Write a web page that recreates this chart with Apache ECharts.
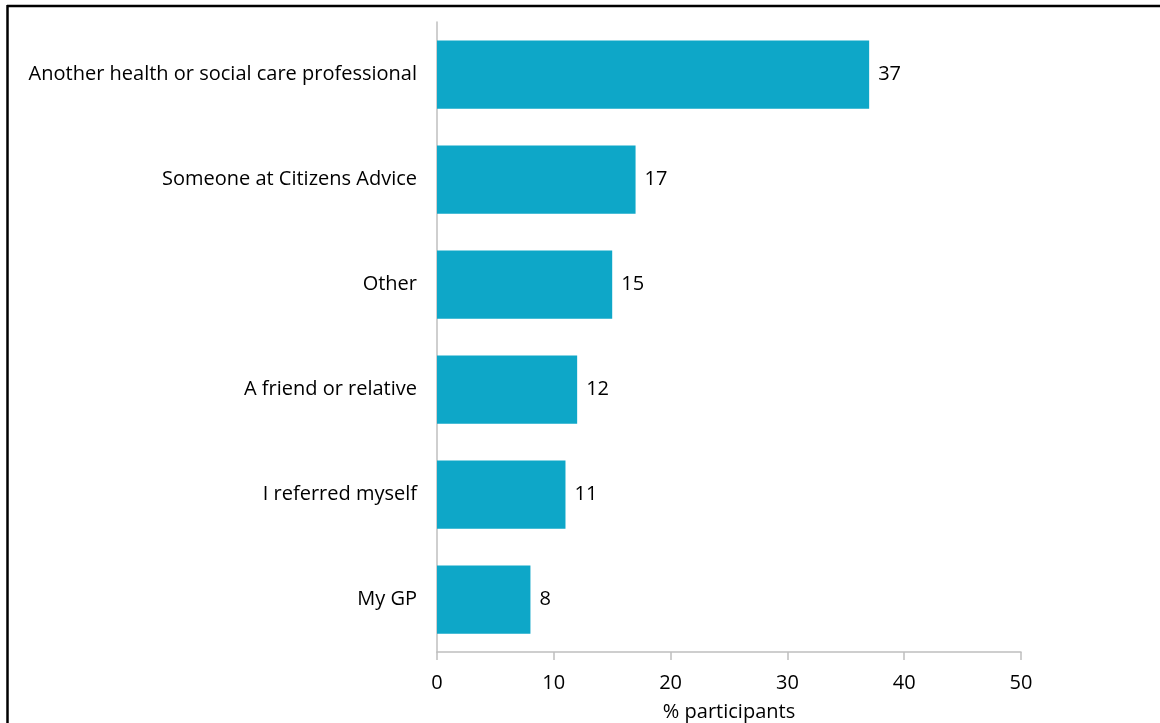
<!DOCTYPE html>
<html>
<head>
<meta charset="utf-8">
<script src="https://cdn.jsdelivr.net/npm/echarts@6/dist/echarts.min.js"></script>
<style>
  html, body { margin: 0; padding: 0; background: #fff; }
  #chart { width: 1160px; height: 723px; }
</style>
</head>
<body>
<div id="chart"></div>
<script>
// Referral sources, listed top to bottom
const categories = [
  'Another health or social care professional',
  'Someone at Citizens Advice',
  'Other',
  'A friend or relative',
  'I referred myself',
  'My GP'
];
const participantShare = [37, 17, 15, 12, 11, 8];
const xTicks = [0, 10, 20, 30, 40, 50];

const FONT = '"Open Sans", Lato, sans-serif';
const FS = 20;
const chart = echarts.init(document.getElementById('chart'), null, { renderer: 'canvas' });

chart.setOption({
  animation: false,
  backgroundColor: '#ffffff',
  grid: { left: 437, right: 139, top: 22, bottom: 71, containLabel: false, outerBoundsMode: 'none' },
  xAxis: {
    type: 'value',
    min: xTicks[0],
    max: xTicks[xTicks.length - 1],
    interval: 10,
    name: '% participants',
    nameLocation: 'middle',
    nameGap: 50,
    nameTextStyle: { fontFamily: FONT, fontSize: FS, color: '#000' },
    axisLine: { show: true, lineStyle: { color: '#bfbfbf', width: 1.5 } },
    axisTick: { show: true, length: 8, lineStyle: { color: '#bfbfbf', width: 1.5 } },
    axisLabel: { fontFamily: FONT, fontSize: FS, color: '#000', margin: 21 },
    splitLine: { show: false }
  },
  yAxis: {
    type: 'category',
    data: categories,
    inverse: true,
    axisLine: { show: true, lineStyle: { color: '#bfbfbf', width: 1.5 } },
    axisTick: { show: false },
    axisLabel: { fontFamily: FONT, fontSize: FS, color: '#000', margin: 20 },
    splitLine: { show: false }
  },
  series: [{
    type: 'bar',
    data: participantShare,
    barCategoryGap: '35%',
    itemStyle: { color: '#0ea7c8' },
    label: {
      show: true,
      position: 'right',
      distance: 9,
      fontFamily: FONT,
      fontSize: FS,
      color: '#000'
    }
  }],
  graphic: [
    { type: 'line', shape: { x1: 7, y1: 6, x2: 1160, y2: 6 }, style: { stroke: '#000', lineWidth: 2.5 } },
    { type: 'line', shape: { x1: 7.5, y1: 5, x2: 7.5, y2: 723 }, style: { stroke: '#000', lineWidth: 2.5 } }
  ]
});
</script>
</body>
</html>
